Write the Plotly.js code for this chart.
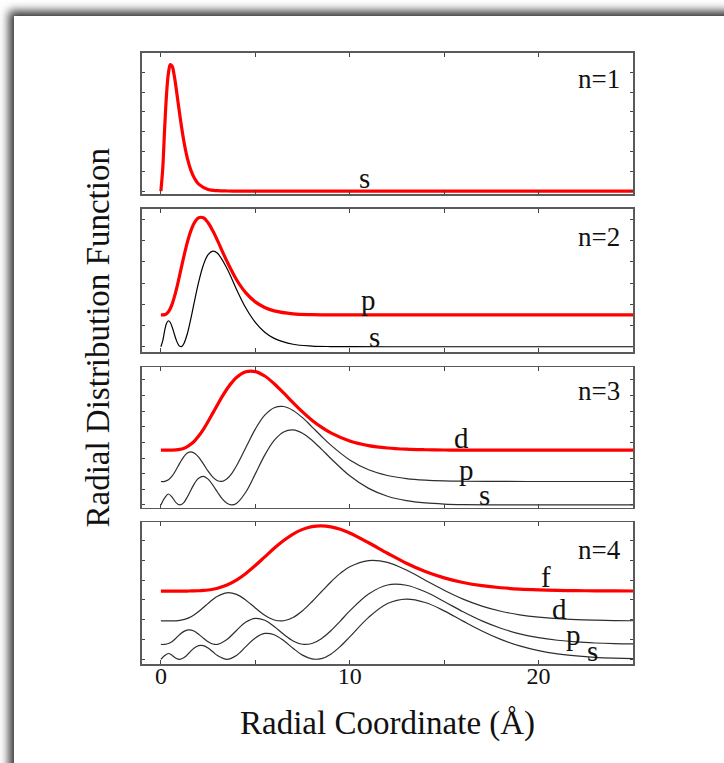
<!DOCTYPE html>
<html>
<head>
<meta charset="utf-8">
<script src="https://cdn.plot.ly/plotly-3.0.1.min.js"></script>
<style>
html,body{margin:0;padding:0;background:#fff;overflow:hidden;width:724px;height:763px}
#page{position:absolute;left:14px;top:16px;width:760px;height:800px;background:#fff;box-shadow:-4px -4px 9px 1px rgba(0,0,0,0.8)}
#plot{position:absolute;left:0;top:0;width:724px;height:763px}
</style>
</head>
<body>
<div id="page"></div>
<div id="plot"></div>
<script>
// Radial coordinate samples (Å) and radial distribution values
const r1 = [0,0.1,0.2,0.3,0.4,0.5,0.6,0.7,0.8,1.0,1.2,1.4,1.6,1.8,2.0,2.5,3.0,3.5,4.0,25];
const n1s = [0,0.185,0.507,0.782,0.953,1.021,1.007,0.939,0.840,0.616,0.416,0.266,0.163,0.097,0.056,0.013,0.003,0.0005,0,0];

const r2 = [0,0.1,0.2,0.3,0.4,0.5,0.6,0.7,0.8,0.9,1.0,1.1,1.2,1.4,1.6,1.8,2.0,2.25,2.5,2.75,3.0,3.5,4.0,4.5,5.0,5.5,6,7,8,9,10,12,25];
const n2s = [0,0.0229,0.0609,0.0885,0.0981,0.0913,0.0733,0.0505,0.0283,0.0111,0.0015,0.0008,0.0091,0.0490,0.1102,0.1791,0.2442,0.3087,0.3474,0.3606,0.3527,0.2952,0.2173,0.1462,0.0921,0.0549,0.0316,0.0093,0.0025,0.0006,0.0001,0,0];
const n2p = [0,0.0001,0.0011,0.0046,0.0121,0.0244,0.0419,0.0643,0.0908,0.1204,0.1519,0.1841,0.2159,0.2740,0.3201,0.3513,0.3670,0.3666,0.3481,0.3175,0.2806,0.2021,0.1339,0.0833,0.0494,0.0281,0.0155,0.0043,0.0011,0.0003,0.0001,0,0];
const offsets2 = [0, 0.12];

const r3 = [0,0.2,0.4,0.6,0.8,1.0,1.2,1.4,1.6,1.8,2.0,2.25,2.5,2.75,3.0,3.25,3.5,3.75,4.0,4.5,5.0,5.5,6.0,6.5,7.0,7.5,8,8.5,9,10,11,12,13,14,15,16,18,20,22,25];
const n3s = [0,0.0179,0.0280,0.0195,0.0061,0,0.0055,0.0203,0.0391,0.0566,0.0686,0.0730,0.0660,0.0509,0.0326,0.0158,0.0042,0,0.0039,0.0331,0.0795,0.1275,0.1650,0.1866,0.1918,0.1834,0.1654,0.1429,0.1188,0.0746,0.0425,0.0224,0.0112,0.0053,0.0024,0.0011,0.0002,0,0,0];
const n3p = [0,0.0004,0.0042,0.0141,0.0295,0.0470,0.0624,0.0726,0.0758,0.0719,0.0622,0.0450,0.0266,0.0113,0.0020,0.0004,0.0068,0.0204,0.0396,0.0870,0.1340,0.1696,0.1887,0.1917,0.1818,0.1632,0.1398,0.1158,0.0929,0.0551,0.0300,0.0153,0.0074,0.0034,0.0015,0.0007,0.0001,0,0,0];
const n3d = [0,0,0,0.0002,0.0007,0.0020,0.0046,0.0090,0.0157,0.0247,0.0361,0.0534,0.0733,0.0948,0.1165,0.1375,0.1565,0.1728,0.1857,0.2005,0.2010,0.1897,0.1701,0.1465,0.1217,0.0981,0.0768,0.0590,0.0443,0.0236,0.0119,0.0057,0.0026,0.0012,0.0005,0.0002,0,0,0,0];
const offsets3 = [0, 0.06, 0.14];

const r4 = [0,0.2,0.4,0.6,0.8,1.0,1.25,1.5,1.75,2.0,2.25,2.5,2.75,3.0,3.5,4.0,4.5,5.0,5.5,6.0,6.5,7.0,7.5,8.0,8.5,9.0,9.5,10,11,12,13,14,15,16,17,18,19,20,21,22,23,24,25];
const n4s = [0,0.0075,0.0117,0.0079,0.0023,0,0.0041,0.0133,0.0225,0.0278,0.0276,0.0227,0.0151,0.0075,0,0.0077,0.0257,0.0433,0.0523,0.0497,0.0379,0.0222,0.0084,0.0008,0.0015,0.0104,0.0259,0.0453,0.0848,0.1128,0.1218,0.1148,0.0980,0.0772,0.0573,0.0403,0.0271,0.0176,0.0111,0.0068,0.0040,0.0024,0.0013];
const n4p = [0,0.0002,0.0019,0.0062,0.0128,0.0200,0.0270,0.0296,0.0271,0.0207,0.0127,0.0055,0.0010,0.0002,0.0099,0.0283,0.0452,0.0528,0.0489,0.0363,0.0205,0.0072,0.0004,0.0020,0.0118,0.0277,0.0473,0.0678,0.1021,0.1203,0.1197,0.1065,0.0869,0.0660,0.0476,0.0327,0.0215,0.0137,0.0085,0.0051,0.0030,0.0017,0.0010];
const n4d = [0,0,0,0.0001,0.0004,0.0012,0.0032,0.0068,0.0121,0.0191,0.0272,0.0356,0.0435,0.0501,0.0570,0.0538,0.0421,0.0263,0.0115,0.0020,0.0004,0.0070,0.0206,0.0389,0.0591,0.0789,0.0962,0.1096,0.1222,0.1186,0.1029,0.0825,0.0620,0.0441,0.0301,0.0197,0.0125,0.0077,0.0046,0.0027,0.0016,0.0009,0.0005];
const n4f = [0,0,0,0,0,0,0,0.0001,0.0003,0.0006,0.0012,0.0021,0.0036,0.0058,0.0123,0.0223,0.0357,0.0517,0.0691,0.0864,0.1021,0.1153,0.1247,0.1303,0.1318,0.1298,0.1248,0.1174,0.0976,0.0764,0.0562,0.0394,0.0266,0.0173,0.0109,0.0067,0.0040,0.0024,0.0013,0.0008,0.0004,0.0002,0.0001];
const offsets4 = [0, 0.03, 0.0775, 0.138];

const shellLabels = ['n=1','n=2','n=3','n=4'];
const xTicks = [0,5,10,15,20];
const xTickText = ['0','','10','','20'];

const RED = '#ff0000', DARK = '#2e2e2e';
const FONT = 'Liberation Serif, Times New Roman, serif';

function shift(arr, d){ return arr.map(v => v + d); }
function tr(x, y, xa, ya, color, w){
  return {x:x, y:y, xaxis:xa, yaxis:ya, type:'scatter', mode:'lines',
          line:{color:color, width:w, shape:'spline', smoothing:1}, hoverinfo:'skip', showlegend:false};
}
const data = [
  tr(r1, n1s, 'x', 'y', RED, 3.2),
  tr(r2, shift(n2s, offsets2[0]), 'x2', 'y2', '#000', 1.2),
  tr(r2, shift(n2p, offsets2[1]), 'x2', 'y2', RED, 3.2),
  tr(r3, shift(n3s, offsets3[0]), 'x3', 'y3', DARK, 1.2),
  tr(r3, shift(n3p, offsets3[1]), 'x3', 'y3', DARK, 1.2),
  tr(r3, shift(n3d, offsets3[2]), 'x3', 'y3', RED, 3.2),
  // drawn against the label-carrying overlay x axis (same range as x4)
  tr(r4, shift(n4s, offsets4[0]), 'x5', 'y4', DARK, 1.2),
  tr(r4, shift(n4p, offsets4[1]), 'x4', 'y4', DARK, 1.2),
  tr(r4, shift(n4d, offsets4[2]), 'x4', 'y4', DARK, 1.2),
  tr(r4, shift(n4f, offsets4[3]), 'x4', 'y4', RED, 3.2)
];

function xax(anchor){
  return {anchor:anchor, range:[-1,25], tickmode:'array', tickvals:xTicks, ticktext:xTickText,
    ticks:'inside', ticklen:4, tickwidth:1, tickcolor:'#444', showline:true, linecolor:'#5a5a5a', linewidth:1.6,
    mirror:'ticks', showgrid:false, zeroline:false, showticklabels:false};
}
function yax(anchor, dom, rng, dt){
  return {anchor:anchor, domain:dom, range:rng, tick0:0, dtick:dt,
    ticks:'inside', ticklen:3, tickwidth:1, tickcolor:'#444', showline:true, linecolor:'#5a5a5a', linewidth:1.6,
    mirror:'ticks', showgrid:false, zeroline:false, showticklabels:false};
}
function lab(text, x, y, ax, size){
  return {text:text, x:x, y:y, xref:'x'+ax, yref:'y'+ax, showarrow:false, xanchor:'center', yanchor:'middle',
    font:{family:FONT, size:size, color:'#111'}};
}

const layout = {
  width:724, height:763,
  margin:{l:142, r:91, t:53, b:99},
  paper_bgcolor:'rgba(0,0,0,0)', plot_bgcolor:'rgba(0,0,0,0)',
  xaxis: xax('y'),
  yaxis: yax('x', [0.7692,1], [-0.024,1.115], 0.16),
  xaxis2: xax('y2'),
  yaxis2: yax('x2', [0.5106,0.7447], [-0.020,0.520], 0.08),
  xaxis3: xax('y3'),
  yaxis3: yax('x3', [0.2558,0.4856], [-0.007,0.352], 0.04),
  xaxis4: xax('y4'),
  yaxis4: yax('x4', [0,0.2319], [-0.0095,0.277], 0.04),
  xaxis5: {overlaying:'x4', anchor:'free', position:0.009, side:'bottom', range:[-1,25],
    tickmode:'array', tickvals:xTicks, ticktext:xTickText, ticks:'', showline:false, showgrid:false,
    zeroline:false, showticklabels:true, tickfont:{family:FONT, size:24, color:'#111'}},
  annotations: [
    lab(shellLabels[0], 23.2, 0.907, '', 27),
    lab('s', 10.8, 0.105, '', 29),
    lab(shellLabels[1], 23.2, 0.415, '2', 27),
    lab('p', 11.0, 0.176, '2', 29),
    lab('s', 11.32, 0.038, '2', 29),
    lab(shellLabels[2], 23.2, 0.292, '3', 27),
    lab('d', 15.9, 0.171, '3', 29),
    lab('p', 16.2, 0.0895, '3', 29),
    lab('s', 17.15, 0.0256, '3', 29),
    lab(shellLabels[3], 23.2, 0.221, '4', 27),
    lab('f', 20.39, 0.167, '4', 29),
    lab('d', 21.09, 0.102, '4', 29),
    lab('p', 21.85, 0.0495, '4', 29),
    lab('s', 22.85, 0.0158, '4', 29),
    {text:'Radial Coordinate (Å)', xref:'paper', yref:'paper', x:0.499, y:-0.098, showarrow:false,
     xanchor:'center', yanchor:'middle', font:{family:FONT, size:33, color:'#111'}},
    {text:'Radial Distribution Function', xref:'paper', yref:'paper', x:-0.0896, y:0.5327, showarrow:false,
     textangle:-90, xanchor:'center', yanchor:'middle', font:{family:FONT, size:33, color:'#111'}}
  ]
};
Plotly.newPlot('plot', data, layout, {staticPlot:true, displayModeBar:false});
</script>
</body>
</html>
